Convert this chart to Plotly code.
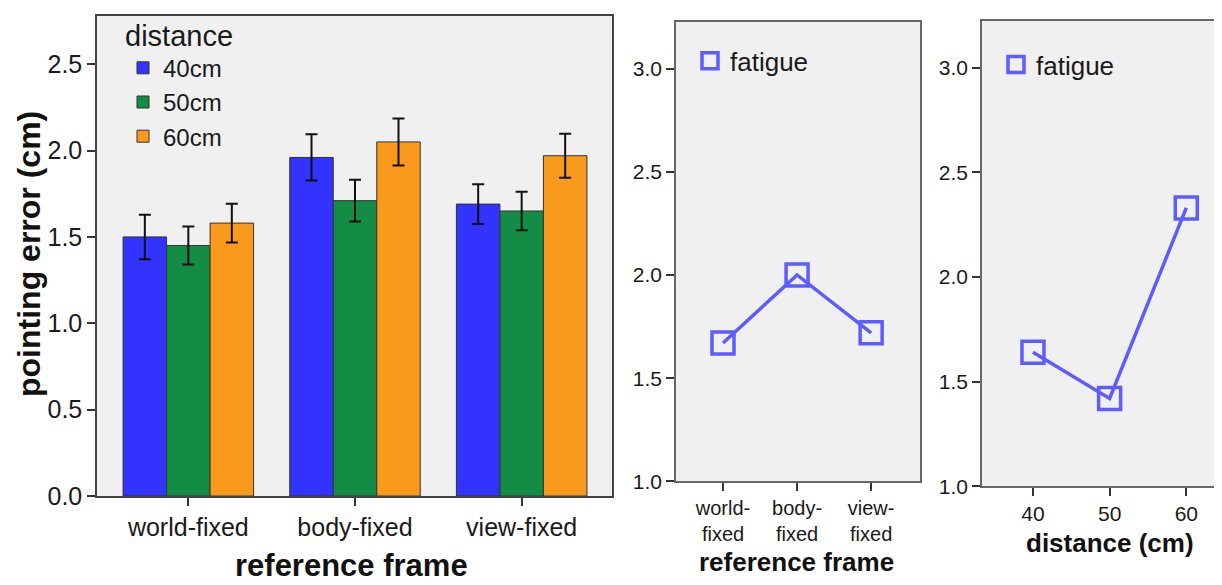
import plotly.graph_objects as go

# ---------------- data ----------------
frames = ["world-fixed", "body-fixed", "view-fixed"]
frame_ticktext = ["world-<br>fixed", "body-<br>fixed", "view-<br>fixed"]
distance_names = ["40cm", "50cm", "60cm"]

mean_40cm = [1.50, 1.96, 1.69]
mean_50cm = [1.45, 1.71, 1.65]
mean_60cm = [1.58, 2.05, 1.97]
se_40cm = [0.129, 0.134, 0.115]
se_50cm = [0.110, 0.121, 0.111]
se_60cm = [0.112, 0.136, 0.127]

fatigue_by_frame = [1.67, 2.00, 1.72]
distance_cm = [40, 50, 60]
fatigue_by_distance = [1.64, 1.42, 2.33]

left_yticks = [0.0, 0.5, 1.0, 1.5, 2.0, 2.5]
small_yticks = [1.0, 1.5, 2.0, 2.5, 3.0]

bar_colors = ["#3333FF", "#138C46", "#F99A1C"]
line_color = "#5C5CFF"
FONT = "Liberation Sans, Arial, sans-serif"
W, H = 1222, 585

def px_x(a, b):
    return [a / W, b / W]

def px_y(top, bottom):
    return [(H - bottom) / H, (H - top) / H]

fig = go.Figure()

means = [mean_40cm, mean_50cm, mean_60cm]
ses = [se_40cm, se_50cm, se_60cm]
for name, m, s, c in zip(distance_names, means, ses, bar_colors):
    fig.add_trace(go.Bar(
        x=frames, y=m, name=name, xaxis="x", yaxis="y",
        marker=dict(color=c, line=dict(color="#333333", width=1)),
        error_y=dict(type="data", array=s, visible=True, color="#111111",
                     thickness=2, width=6),
        legend="legend",
    ))

# middle panel
fig.add_trace(go.Scatter(
    x=frames, y=fatigue_by_frame, mode="lines", xaxis="x2", yaxis="y2",
    line=dict(color=line_color, width=3.5), showlegend=False, hoverinfo="skip"))
fig.add_trace(go.Scatter(
    x=frames, y=fatigue_by_frame, mode="markers", name="fatigue", xaxis="x2", yaxis="y2",
    marker=dict(symbol="square-open", size=22, color=line_color,
                line=dict(color=line_color, width=3.5)),
    legend="legend2"))

# right panel
fig.add_trace(go.Scatter(
    x=distance_cm, y=fatigue_by_distance, mode="lines", xaxis="x3", yaxis="y3",
    line=dict(color=line_color, width=3.5), showlegend=False, hoverinfo="skip"))
fig.add_trace(go.Scatter(
    x=distance_cm, y=fatigue_by_distance, mode="markers", name="fatigue", xaxis="x3", yaxis="y3",
    marker=dict(symbol="square-open", size=22, color=line_color,
                line=dict(color=line_color, width=3.5)),
    legend="legend3"))

axis_common = dict(showgrid=False, zeroline=False, ticks="outside", ticklen=8,
                   tickcolor="#333333", tickwidth=1.5, showline=True,
                   linewidth=1.5)

fig.update_layout(
    width=W, height=H, autosize=False,
    margin=dict(l=0, r=0, t=0, b=0),
    paper_bgcolor="white", plot_bgcolor="#F0F0F0",
    font=dict(family=FONT, color="#1a1a1a"),
    barmode="group", bargap=0.217, bargroupgap=0,
    showlegend=True,
    xaxis=dict(domain=px_x(89, 604), anchor="y", type="category",
               range=[-0.548, 2.542], mirror=True, linecolor="#444444",
               tickfont=dict(size=25), **axis_common),
    yaxis=dict(domain=px_y(8, 500), anchor="x", range=[0, 2.78],
               tickvals=left_yticks, tickformat=".1f", mirror=True,
               linecolor="#444444", tickfont=dict(size=25), **axis_common),
    xaxis2=dict(domain=px_x(668, 912), anchor="y2", type="category",
                range=[-0.635, 2.66], tickvals=frames, ticktext=frame_ticktext,
                mirror=True, linecolor="#666666", tickfont=dict(size=20),
                **axis_common),
    yaxis2=dict(domain=px_y(14, 485), anchor="x2", range=[1.0, 3.227],
                tickvals=small_yticks, tickformat=".1f", mirror=True,
                linecolor="#666666", tickfont=dict(size=21), **axis_common),
    xaxis3=dict(domain=[974 / W, 1.0], anchor="y3", range=[33.35, 65.7],
                tickvals=distance_cm, mirror=True, linecolor="#666666",
                tickfont=dict(size=21), **axis_common),
    yaxis3=dict(domain=px_y(13, 490), anchor="x3", range=[1.0, 3.225],
                tickvals=small_yticks, tickformat=".1f", mirror=False,
                linecolor="#666666", tickfont=dict(size=21), **axis_common),
    legend=dict(x=115 / W, y=1.0, xanchor="left", yanchor="top",
                bgcolor="rgba(0,0,0,0)", borderwidth=0,
                title=dict(text="distance", font=dict(size=29)),
                font=dict(size=24), tracegroupgap=0),
    legend2=dict(x=682 / W, y=(H - 30) / H, xanchor="left", yanchor="top",
                 bgcolor="rgba(0,0,0,0)", borderwidth=0, font=dict(size=26)),
    legend3=dict(x=988 / W, y=(H - 34) / H, xanchor="left", yanchor="top",
                 bgcolor="rgba(0,0,0,0)", borderwidth=0, font=dict(size=26)),
)

annotations = [
    dict(text="<b>reference frame</b>", x=343 / W, y=(H - 571) / H,
         font=dict(size=31)),
    dict(text="<b>pointing error (cm)</b>", x=21 / W, y=(H - 252) / H,
         textangle=-90, font=dict(size=32)),
    dict(text="<b>reference frame</b>", x=789 / W, y=(H - 568) / H,
         font=dict(size=26)),
    dict(text="<b>distance (cm)</b>", x=1102 / W, y=(H - 548) / H,
         font=dict(size=26)),
]
for a in annotations:
    fig.add_annotation(xref="paper", yref="paper", showarrow=False,
                       xanchor="center", yanchor="middle",
                       font_family=FONT, font_color="#111111", **a)

fig.write_html("out.html")
